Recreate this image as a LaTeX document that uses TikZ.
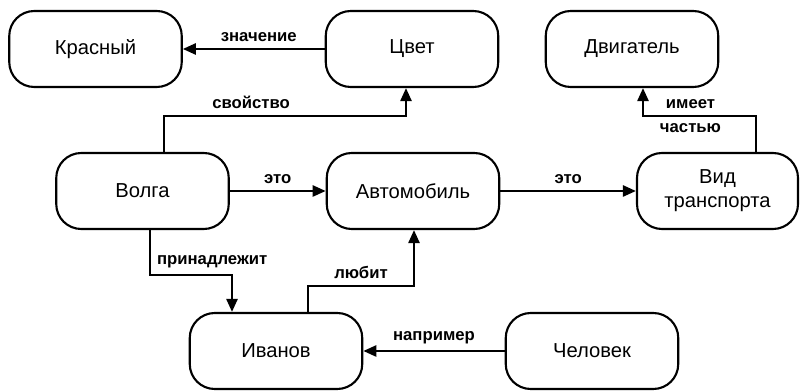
\documentclass[tikz,border=0pt]{standalone}
\usepackage{fontspec}
\setmainfont{Liberation Sans}
\usetikzlibrary{arrows.meta}

\begin{document}
\begin{tikzpicture}[x=0.2mm,y=0.2mm]
            \tikzset{concept/.style = {draw, line width=1.2pt, rounded corners=5mm, minimum width=34.5mm, minimum height=15.2mm, align=center, font=\fontsize{11.5}{13.5}\selectfont}}
            \tikzset{rel/.style = {-{Triangle[length=2.6mm,width=2.2mm]}, line width=1.4pt}}
            \tikzset{lbl/.style = {align=center, font=\bfseries\fontsize{9.5}{13.6}\selectfont}}

            \useasboundingbox (0,0) rectangle (805,392);

            \node[concept] (krasny) at (95.5,343) {Красный};
            \node[concept] (tsvet) at (412,343) {Цвет};
            \node[concept] (dvigatel) at (632,343) {Двигатель};
            \node[concept] (volga) at (142.5,201) {Волга};
            \node[concept] (avto) at (413,201) {Автомобиль};
            \node[concept, minimum width=32.2mm] (vid) at (717.5,201) {Вид\\транспорта};
            \node[concept] (ivanov) at (276,41) {Иванов};
            \node[concept] (chelovek) at (592,41) {Человек};

            \draw[rel] (tsvet) -- node[lbl,above,xshift=1mm]{значение} (krasny);
            \draw[rel] ([xshift=4.3mm]volga.north) -- ++(0,36) -| node[lbl,pos=0.18,above]{свойство} ([xshift=-1.2mm]tsvet.south);
            \draw[rel] (volga) -- node[lbl,above]{это} (avto);
            \draw[rel] (avto) -- node[lbl,above]{это} (vid);
            \draw[rel] ([xshift=7.7mm]vid.north) -- ++(0,36) -| node[lbl,pos=0.29]{имеет\\частью} ([xshift=2.2mm]dvigatel.south);

            % lower relations
            \draw[rel] ([xshift=1.5mm]volga.south) -- ++(0,-45) -| node[lbl,pos=0,above right]{принадлежит} ([xshift=-8.8mm]ivanov.north);
            \draw[rel] ([xshift=6.4mm]ivanov.north) -- ++(0,26) -| node[lbl,pos=0.25,above]{любит} ([xshift=0.2mm]avto.south);
            \draw[rel] (chelovek) -- node[lbl,above]{например} (ivanov);

        \end{tikzpicture}
\end{document}
